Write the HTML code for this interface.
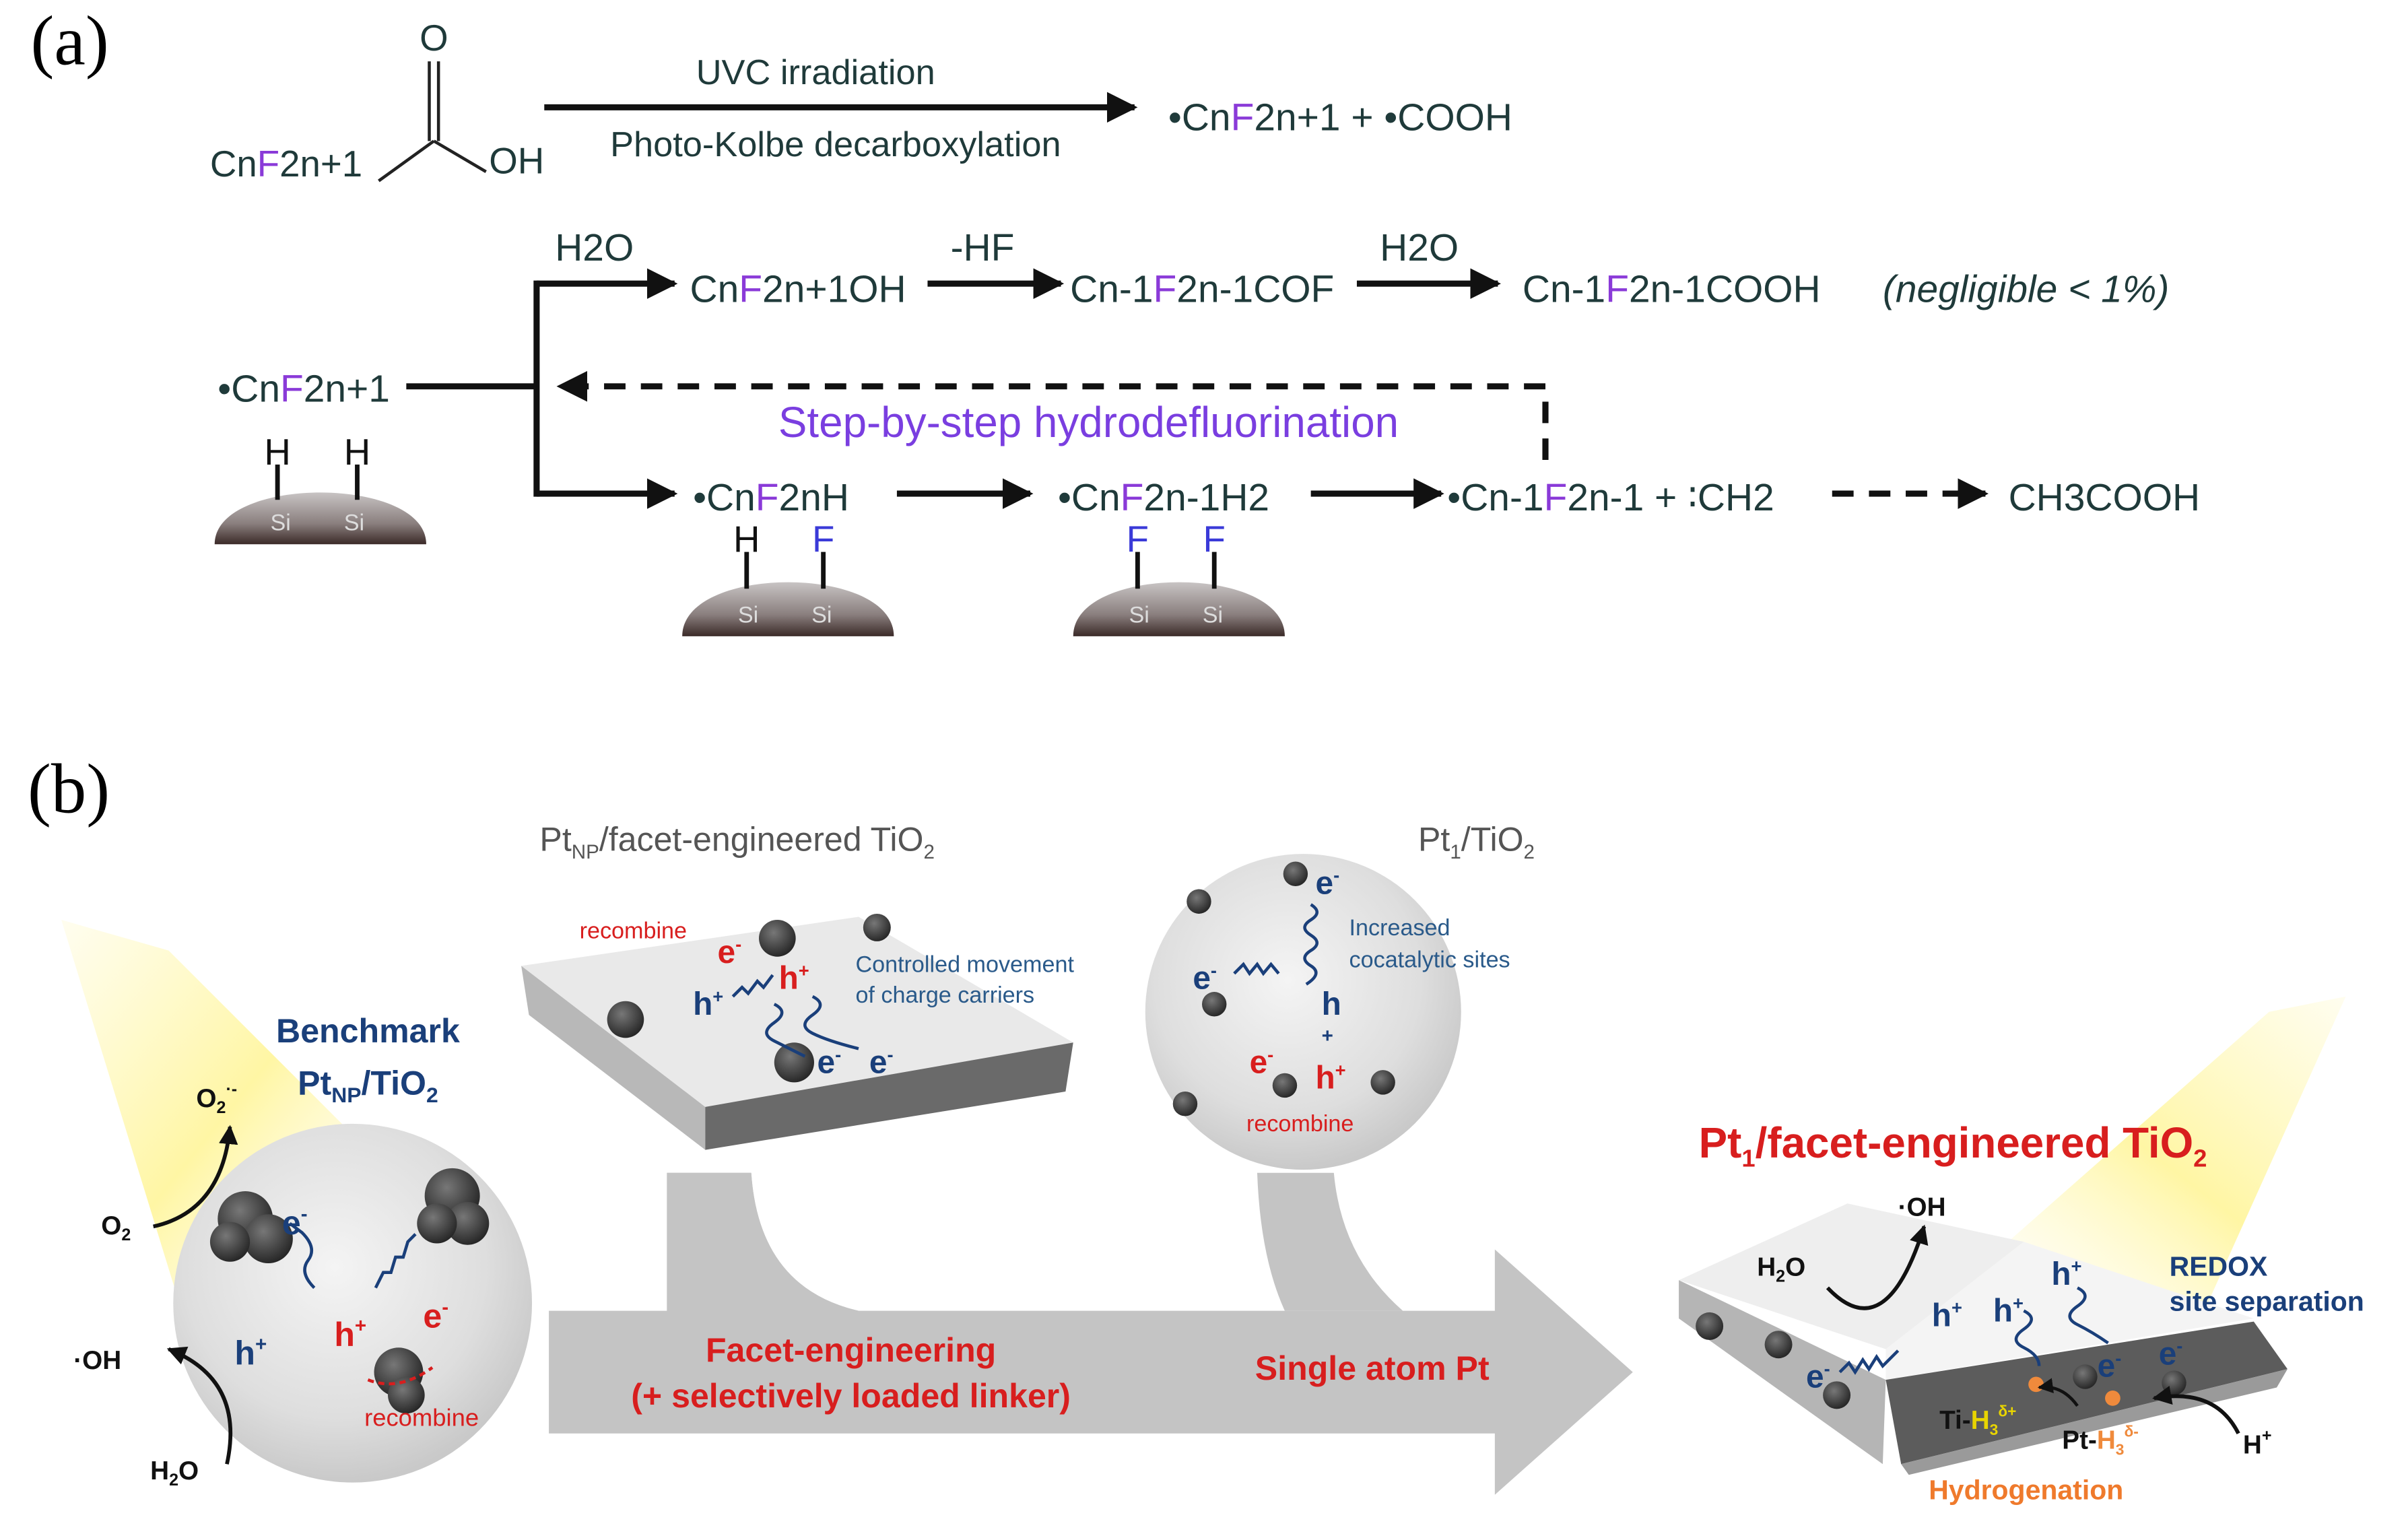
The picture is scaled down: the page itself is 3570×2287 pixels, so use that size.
<!DOCTYPE html>
<html><head><meta charset="utf-8"><style>
html,body{margin:0;padding:0;background:#fff}
svg{display:block}
text{font-family:"Liberation Sans",sans-serif}
</style></head><body>
<svg width="3570" height="2287" viewBox="0 0 1568 1004.5" preserveAspectRatio="none" xmlns="http://www.w3.org/2000/svg">
<defs>
<marker id="ah" viewBox="0 0 10 10" refX="9" refY="5" markerWidth="5" markerHeight="5" orient="auto"><path d="M0,0L10,5L0,10Z" fill="#111"/></marker>
<linearGradient id="dome" x1="0" y1="0" x2="0" y2="1"><stop offset="0" stop-color="#c8c4c4"/><stop offset="0.6" stop-color="#8a7f7e"/><stop offset="1" stop-color="#3b2a28"/></linearGradient>
<radialGradient id="sph" cx="0.45" cy="0.4" r="0.6"><stop offset="0" stop-color="#f4f4f4"/><stop offset="0.7" stop-color="#dedede"/><stop offset="1" stop-color="#c9c9c9"/></radialGradient>
<linearGradient id="beam" x1="0" y1="0" x2="1" y2="1"><stop offset="0" stop-color="#fff7b0" stop-opacity="0.2"/><stop offset="0.5" stop-color="#fff59a" stop-opacity="0.9"/><stop offset="1" stop-color="#fffbe0" stop-opacity="0"/></linearGradient>
<linearGradient id="beam2" x1="1" y1="0" x2="0" y2="1"><stop offset="0" stop-color="#fff7b0" stop-opacity="0.2"/><stop offset="0.5" stop-color="#fff59a" stop-opacity="0.9"/><stop offset="1" stop-color="#fffbe0" stop-opacity="0"/></linearGradient>
<radialGradient id="blob" cx="0.4" cy="0.35" r="0.7"><stop offset="0" stop-color="#777"/><stop offset="1" stop-color="#222"/></radialGradient>
</defs>

<!-- (a) -->
<text x="20" y="42" font-family="Liberation Serif" font-size="46" style="font-family:'Liberation Serif',serif">(a)</text>
<g fill="#1f3a3a" font-size="24">
<text x="283" y="33" text-anchor="middle">O</text>
<line x1="280" y1="40" x2="280" y2="92" stroke="#222" stroke-width="2"/>
<line x1="286" y1="40" x2="286" y2="92" stroke="#222" stroke-width="2"/>
<line x1="283" y1="92" x2="247" y2="118" stroke="#222" stroke-width="2"/>
<line x1="283" y1="92" x2="317" y2="112" stroke="#222" stroke-width="2"/>
<text x="319" y="113">OH</text>
<text x="137" y="115">Cn<tspan fill="#8a3ad8">F</tspan>2n+1</text>
</g>
<line x1="355" y1="70" x2="740" y2="70" stroke="#111" stroke-width="4" marker-end="url(#ah)"/>
<text x="532" y="55" text-anchor="middle" font-size="23" fill="#1f3a3a">UVC irradiation</text>
<text x="545" y="102" text-anchor="middle" font-size="23" fill="#1f3a3a">Photo-Kolbe decarboxylation</text>
<text x="762" y="85" font-size="25" fill="#1f3a3a">•Cn<tspan fill="#8a3ad8">F</tspan>2n+1  +  •COOH</text>

<g font-size="25" fill="#1f3a3a">
<text x="362" y="170">H2O</text>
<text x="450" y="197">Cn<tspan fill="#8a3ad8">F</tspan>2n+1OH</text>
<text x="620" y="170">-HF</text>
<text x="698" y="197">Cn-1<tspan fill="#8a3ad8">F</tspan>2n-1COF</text>
<text x="900" y="170">H2O</text>
<text x="993" y="197">Cn-1<tspan fill="#8a3ad8">F</tspan>2n-1COOH</text>
<text x="1228" y="197" font-style="italic">(negligible &lt; 1%)</text>
<text x="142" y="262">•Cn<tspan fill="#8a3ad8">F</tspan>2n+1</text>
<text x="452" y="333">•Cn<tspan fill="#8a3ad8">F</tspan>2nH</text>
<text x="690" y="333">•Cn<tspan fill="#8a3ad8">F</tspan>2n-1H2</text>
<text x="944" y="333">•Cn-1<tspan fill="#8a3ad8">F</tspan>2n-1 + ∶CH2</text>
<text x="1310" y="333">CH3COOH</text>
</g>
<g stroke="#111" stroke-width="4" fill="none">
<line x1="350" y1="185" x2="440" y2="185" marker-end="url(#ah)"/>
<line x1="350" y1="183" x2="350" y2="324"/>
<line x1="350" y1="322" x2="440" y2="322" marker-end="url(#ah)"/>
<line x1="265" y1="252" x2="350" y2="252"/>
<line x1="605" y1="185" x2="692" y2="185" marker-end="url(#ah)"/>
<line x1="885" y1="185" x2="977" y2="185" marker-end="url(#ah)"/>
<line x1="585" y1="322" x2="672" y2="322" marker-end="url(#ah)"/>
<line x1="855" y1="322" x2="940" y2="322" marker-end="url(#ah)"/>
<line x1="1195" y1="322" x2="1295" y2="322" stroke-dasharray="14,10" marker-end="url(#ah)"/>
<line x1="1008" y1="300" x2="1008" y2="252" stroke-dasharray="14,10"/>
<line x1="1008" y1="252" x2="365" y2="252" stroke-dasharray="14,10" marker-end="url(#ah)"/>
</g>
<text x="710" y="285" text-anchor="middle" font-size="28" fill="#7a3ee0">Step-by-step hydrodefluorination</text>

<!-- domes -->
<g>
<path d="M140,355 C140,310 278,310 278,355 Z" fill="url(#dome)"/>
<line x1="181" y1="303" x2="181" y2="326" stroke="#111" stroke-width="3"/><line x1="233" y1="303" x2="233" y2="326" stroke="#111" stroke-width="3"/>
<text x="181" y="303" text-anchor="middle" font-size="24" fill="#111">H</text><text x="233" y="303" text-anchor="middle" font-size="24" fill="#111">H</text>
<text x="183" y="346" text-anchor="middle" font-size="15" fill="#ddd">Si</text><text x="231" y="346" text-anchor="middle" font-size="15" fill="#ddd">Si</text>
<path d="M445,415 C445,368 583,368 583,415 Z" fill="url(#dome)"/>
<line x1="487" y1="360" x2="487" y2="384" stroke="#111" stroke-width="3"/><line x1="537" y1="360" x2="537" y2="384" stroke="#111" stroke-width="3"/>
<text x="487" y="360" text-anchor="middle" font-size="24" fill="#111">H</text><text x="537" y="360" text-anchor="middle" font-size="24" fill="#3a3ad8">F</text>
<text x="488" y="406" text-anchor="middle" font-size="15" fill="#ddd">Si</text><text x="536" y="406" text-anchor="middle" font-size="15" fill="#ddd">Si</text>
<path d="M700,415 C700,368 838,368 838,415 Z" fill="url(#dome)"/>
<line x1="742" y1="360" x2="742" y2="384" stroke="#111" stroke-width="3"/><line x1="792" y1="360" x2="792" y2="384" stroke="#111" stroke-width="3"/>
<text x="742" y="360" text-anchor="middle" font-size="24" fill="#3a3ad8">F</text><text x="792" y="360" text-anchor="middle" font-size="24" fill="#3a3ad8">F</text>
<text x="743" y="406" text-anchor="middle" font-size="15" fill="#ddd">Si</text><text x="791" y="406" text-anchor="middle" font-size="15" fill="#ddd">Si</text>
</g>

<!-- (b) -->
<text x="18" y="530" font-size="46" style="font-family:'Liberation Serif',serif">(b)</text>

<!-- beams -->
<polygon points="40,600 110,620 250,760 120,860" fill="url(#beam)"/>
<polygon points="1480,660 1530,650 1440,850 1270,845" fill="url(#beam2)"/>

<!-- big arrow -->
<path d="M435,765 L490,765 Q495,840 560,855 L435,855 Z" fill="#c4c4c4"/>
<path d="M820,765 L870,765 Q875,820 915,855 L838,855 Q822,820 820,765 Z" fill="#c4c4c4"/>
<path d="M435,765 L435,855 L358,855 L358,935 L975,935 L975,975 L1065,895 L975,815 L975,855 L560,855 Q495,840 490,765 Z" fill="#c4c4c4"/>
<text x="555" y="888" text-anchor="middle" font-size="22" font-weight="bold" fill="#d81e1e">Facet-engineering</text>
<text x="555" y="918" text-anchor="middle" font-size="22" font-weight="bold" fill="#d81e1e">(+ selectively loaded linker)</text>
<text x="895" y="900" text-anchor="middle" font-size="22" font-weight="bold" fill="#d81e1e">Single atom Pt</text>

<!-- left sphere -->
<circle cx="230" cy="850" r="117" fill="url(#sph)"/>
<g fill="url(#blob)">
<circle cx="160" cy="795" r="18"/><circle cx="175" cy="808" r="16"/><circle cx="150" cy="810" r="13"/>
<circle cx="295" cy="780" r="18"/><circle cx="305" cy="798" r="14"/><circle cx="285" cy="798" r="13"/>
<circle cx="260" cy="895" r="16"/><circle cx="265" cy="910" r="12"/>
</g>
<text x="240" y="680" text-anchor="middle" font-size="22" font-weight="bold" fill="#1a3f7a">Benchmark</text>
<text x="240" y="714" text-anchor="middle" font-size="22" font-weight="bold" fill="#1a3f7a">Pt<tspan font-size="14" dy="5">NP</tspan><tspan dy="-5">/TiO</tspan><tspan font-size="14" dy="5">2</tspan></text>
<g font-size="17" font-weight="bold" fill="#111">
<text x="128" y="722">O<tspan font-size="11" dy="4">2</tspan><tspan font-size="11" dy="-12">·-</tspan></text>
<text x="66" y="805">O<tspan font-size="11" dy="4">2</tspan></text>
<text x="48" y="893">·OH</text>
<text x="98" y="965">H<tspan font-size="11" dy="4">2</tspan><tspan dy="-4">O</tspan></text>
</g>
<path d="M100,800 Q145,790 150,735" fill="none" stroke="#111" stroke-width="2.5" marker-end="url(#ah)"/>
<path d="M148,955 Q160,900 110,880" fill="none" stroke="#111" stroke-width="2.5" marker-end="url(#ah)"/>
<text x="184" y="805" font-size="22" font-weight="bold" fill="#1a3f7a">e<tspan font-size="13" dy="-9">-</tspan></text>
<text x="153" y="890" font-size="22" font-weight="bold" fill="#1a3f7a">h<tspan font-size="13" dy="-9">+</tspan></text>
<text x="218" y="878" font-size="22" font-weight="bold" fill="#d81e1e">h<tspan font-size="13" dy="-9">+</tspan></text>
<text x="276" y="866" font-size="22" font-weight="bold" fill="#d81e1e">e<tspan font-size="13" dy="-9">-</tspan></text>
<text x="275" y="930" text-anchor="middle" font-size="16" fill="#d81e1e">recombine</text>
<path d="M205,840 q-10,-10 -4,-18 t-4,-18 l-8,-6" fill="none" stroke="#1a3f7a" stroke-width="2"/>
<path d="M245,840 l5,-10 5,0 3,-10 5,0 3,-10 5,-5" fill="none" stroke="#1a3f7a" stroke-width="2"/>
<path d="M240,900 Q260,908 282,892" fill="none" stroke="#d81e1e" stroke-width="2" stroke-dasharray="4,3"/>

<!-- middle slab -->
<polygon points="340,630 560,598 700,680 460,722" fill="#e9e9e9"/>
<polygon points="340,630 460,722 460,750 345,662" fill="#b8b8b8"/>
<polygon points="460,722 700,680 695,712 460,750" fill="#6a6a6a"/>
<text x="352" y="555" font-size="22" fill="#555">Pt<tspan font-size="13" dy="5">NP</tspan><tspan dy="-5">/facet-engineered TiO</tspan><tspan font-size="13" dy="5">2</tspan></text>
<g fill="url(#blob)"><circle cx="507" cy="612" r="12"/><circle cx="572" cy="605" r="9"/><circle cx="408" cy="665" r="12"/><circle cx="518" cy="693" r="13"/></g>
<text x="378" y="612" font-size="15" fill="#d81e1e">recombine</text>
<text x="468" y="628" font-size="21" font-weight="bold" fill="#d81e1e">e<tspan font-size="12" dy="-8">-</tspan></text>
<text x="508" y="645" font-size="21" font-weight="bold" fill="#d81e1e">h<tspan font-size="12" dy="-8">+</tspan></text>
<text x="452" y="662" font-size="21" font-weight="bold" fill="#1a3f7a">h<tspan font-size="12" dy="-8">+</tspan></text>
<text x="533" y="700" font-size="21" font-weight="bold" fill="#1a3f7a">e<tspan font-size="12" dy="-8">-</tspan></text>
<text x="567" y="700" font-size="21" font-weight="bold" fill="#1a3f7a">e<tspan font-size="12" dy="-8">-</tspan></text>
<text x="558" y="634" font-size="15" fill="#2a5a8a">Controlled  movement</text>
<text x="558" y="654" font-size="15" fill="#2a5a8a">of charge carriers</text>
<path d="M478,650 l6,-6 4,4 6,-8 4,4 6,-8" fill="none" stroke="#1a3f7a" stroke-width="2"/>
<path d="M505,655 q10,5 0,12 t0,12 t20,10" fill="none" stroke="#1a3f7a" stroke-width="2"/>
<path d="M530,650 q10,5 0,12 t0,12 t30,10" fill="none" stroke="#1a3f7a" stroke-width="2"/>

<!-- middle circle -->
<circle cx="850" cy="660" r="103" fill="url(#sph)"/>
<text x="925" y="555" font-size="22" fill="#555">Pt<tspan font-size="13" dy="5">1</tspan><tspan dy="-5">/TiO</tspan><tspan font-size="13" dy="5">2</tspan></text>
<g fill="url(#blob)"><circle cx="782" cy="588" r="8"/><circle cx="845" cy="570" r="8"/><circle cx="792" cy="655" r="8"/><circle cx="773" cy="720" r="8"/><circle cx="838" cy="708" r="8"/><circle cx="902" cy="706" r="8"/></g>
<text x="858" y="583" font-size="21" font-weight="bold" fill="#1a3f7a">e<tspan font-size="12" dy="-8">-</tspan></text>
<text x="778" y="645" font-size="21" font-weight="bold" fill="#1a3f7a">e<tspan font-size="12" dy="-8">-</tspan></text>
<text x="862" y="662" font-size="21" font-weight="bold" fill="#1a3f7a">h</text>
<text x="862" y="680" font-size="13" font-weight="bold" fill="#1a3f7a">+</text>
<text x="815" y="700" font-size="21" font-weight="bold" fill="#d81e1e">e<tspan font-size="12" dy="-8">-</tspan></text>
<text x="858" y="710" font-size="21" font-weight="bold" fill="#d81e1e">h<tspan font-size="12" dy="-8">+</tspan></text>
<text x="848" y="738" text-anchor="middle" font-size="15" fill="#d81e1e">recombine</text>
<text x="880" y="610" font-size="15" fill="#2a5a8a">Increased</text>
<text x="880" y="631" font-size="15" fill="#2a5a8a">cocatalytic sites</text>
<path d="M855,590 q8,5 0,10 t0,10 t0,10 t0,10 t-3,12" fill="none" stroke="#1a3f7a" stroke-width="2"/>
<path d="M805,635 l6,-6 4,6 5,-6 4,6 5,-6 5,6" fill="none" stroke="#1a3f7a" stroke-width="2"/>

<!-- right slab -->
<polygon points="1095,835 1205,785 1320,810 1230,880" fill="#eeeeee"/>
<polygon points="1230,880 1320,810 1470,860 1230,900" fill="#f4f4f4"/>
<polygon points="1095,835 1230,900 1228,955 1095,860" fill="#b5b5b5"/>
<polygon points="1230,900 1470,862 1492,893 1240,955" fill="#5c5c5c"/>
<polygon points="1240,955 1492,893 1485,905 1245,962" fill="#9a9a9a"/>
<g fill="url(#blob)"><circle cx="1115" cy="865" r="9"/><circle cx="1160" cy="877" r="9"/><circle cx="1198" cy="910" r="9"/><circle cx="1360" cy="898" r="8"/><circle cx="1418" cy="902" r="8"/></g>
<circle cx="1328" cy="903" r="5" fill="#ef8a3c"/><circle cx="1378" cy="912" r="5" fill="#ef8a3c"/>
<text x="1108" y="755" font-size="28" font-weight="bold" fill="#d81e1e">Pt<tspan font-size="16" dy="6">1</tspan><tspan dy="-6">/facet-engineered TiO</tspan><tspan font-size="16" dy="6">2</tspan></text>
<g font-size="17" font-weight="bold" fill="#111">
<text x="1238" y="793">·OH</text>
<text x="1146" y="832">H<tspan font-size="11" dy="4">2</tspan><tspan dy="-4">O</tspan></text>
<text x="1463" y="948">H<tspan font-size="11" dy="-8">+</tspan></text>
<text x="1265" y="932">Ti-<tspan fill="#e8d400">H<tspan font-size="10" dy="4">3</tspan><tspan font-size="10" dy="-12">δ+</tspan></tspan></text>
<text x="1345" y="945">Pt-<tspan fill="#ef8a3c">H<tspan font-size="10" dy="4">3</tspan><tspan font-size="10" dy="-12">δ-</tspan></tspan></text>
</g>
<path d="M1192,840 Q1230,880 1255,800" fill="none" stroke="#111" stroke-width="2.5" marker-end="url(#ah)"/>
<path d="M1460,935 Q1445,905 1405,912" fill="none" stroke="#111" stroke-width="2.5" marker-end="url(#ah)"/>
<path d="M1355,917 Q1345,903 1330,905" fill="none" stroke="#111" stroke-width="2" marker-end="url(#ah)"/>
<text x="1415" y="832" font-size="18" font-weight="bold" fill="#1a3f7a">REDOX</text>
<text x="1415" y="855" font-size="18" font-weight="bold" fill="#1a3f7a">site separation</text>
<g font-size="21" font-weight="bold" fill="#1a3f7a">
<text x="1338" y="838">h<tspan font-size="12" dy="-8">+</tspan></text>
<text x="1260" y="865">h<tspan font-size="12" dy="-8">+</tspan></text>
<text x="1300" y="862">h<tspan font-size="12" dy="-8">+</tspan></text>
<text x="1178" y="905">e<tspan font-size="12" dy="-8">-</tspan></text>
<text x="1368" y="898">e<tspan font-size="12" dy="-8">-</tspan></text>
<text x="1408" y="890">e<tspan font-size="12" dy="-8">-</tspan></text>
</g>
<path d="M1200,895 l6,-6 4,6 5,-8 4,6 5,-8 4,6 10,-10" fill="none" stroke="#1a3f7a" stroke-width="2"/>
<path d="M1320,855 q10,5 0,12 t0,12 t10,12" fill="none" stroke="#1a3f7a" stroke-width="2"/>
<path d="M1355,840 q10,5 0,12 t0,12 t20,12" fill="none" stroke="#1a3f7a" stroke-width="2"/>
<text x="1258" y="978" font-size="18" fill="#ef7a2c" font-weight="bold">Hydrogenation</text>
</svg>
</body></html>
